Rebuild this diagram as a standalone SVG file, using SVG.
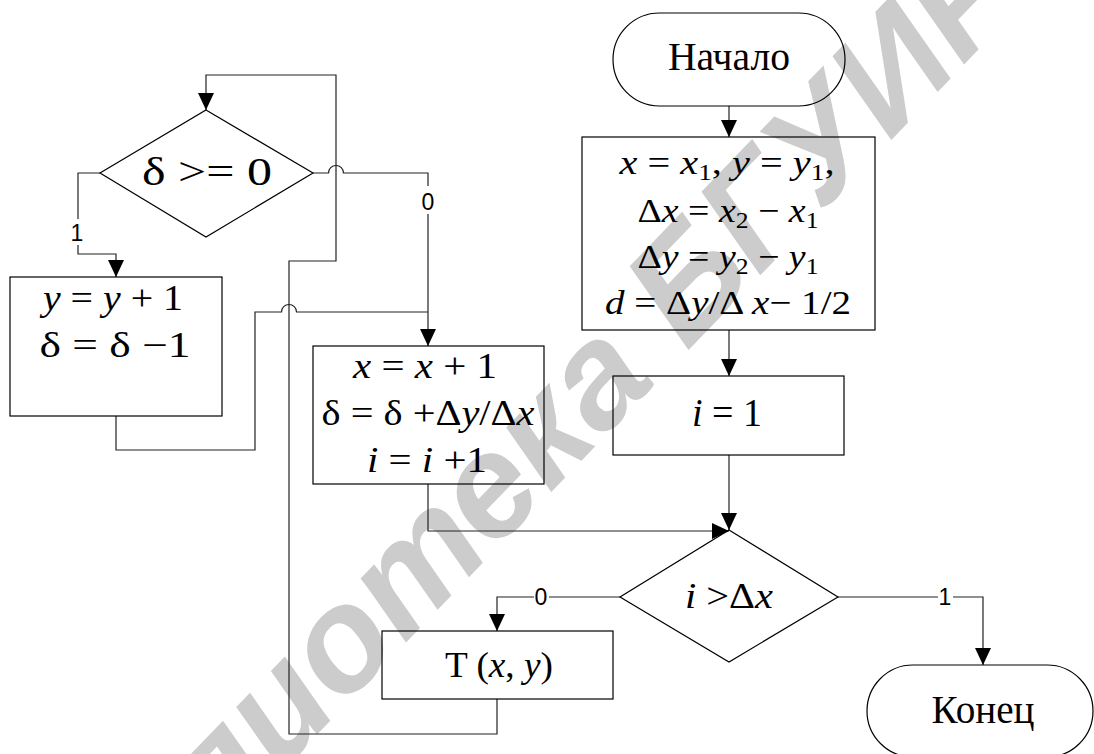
<svg xmlns="http://www.w3.org/2000/svg" width="1094" height="754" viewBox="0 0 1094 754">
  <defs>
    <marker id="arrow" markerUnits="userSpaceOnUse" markerWidth="17" markerHeight="16" refX="17" refY="8" orient="auto">
      <path d="M0,0 L17,8 L0,16 z" fill="#000"/>
    </marker>
    <style>
      .shape { fill: none; stroke: #000; stroke-width: 1.2; }
      .wire { fill: none; stroke: #222; stroke-width: 1.2; }
      .wire-arrow { fill: none; stroke: #222; stroke-width: 1.2; marker-end: url(#arrow); }
      .txt { font-family: 'Liberation Serif', 'Times New Roman', serif; fill: #000; text-anchor: middle; }
      .it { font-style: italic; }
      .lbl { font-family: 'Liberation Sans', Arial, sans-serif; font-size: 23px; fill: #000; text-anchor: middle; }
      .lbl-bg { fill: #fff; }
      .wm { font-family: 'Liberation Sans', Arial, sans-serif; font-weight: bold; font-style: italic; font-size: 146px; fill: #cccccc; }
    </style>
  </defs>

  <rect width="1094" height="754" fill="#fff"/>

  <!-- library watermark -->
  <text class="wm" transform="translate(22,1040) rotate(-46)">Библиотека БГУИР</text>

  <!-- connectors -->
  <g id="connectors">
    <path class="wire-arrow" d="M729,106 V137"/>
    <path class="wire-arrow" d="M729,330 V376"/>
    <path class="wire-arrow" d="M729,455 V530"/>
    <path class="wire-arrow" d="M428,484 V531 H729"/>
    <path class="wire-arrow" d="M620,597 H497 V631"/>
    <path class="wire-arrow" d="M838,597 H983 V665"/>
    <!-- return loop from T(x,y) back to the δ test -->
    <path class="wire-arrow" d="M497,699 V734 H289 V261 H336 V75 H206 V110"/>
    <!-- δ >= 0, branch 0 (hops over the loop line) -->
    <path class="wire-arrow" d="M313,173 H328.5 A7.5,7.5 0 0 1 343.5,173 H428 V346"/>
    <!-- δ >= 0, branch 1 -->
    <path class="wire-arrow" d="M100,173 H78 V254 H116 V277"/>
    <!-- from y = y + 1 into the x = x + 1 block (hops over the loop line) -->
    <path class="wire" d="M116,416 V450 H255 V312 H281.5 A7.5,7.5 0 0 1 296.5,312 H428"/>

    <!-- branch labels -->
    <rect class="lbl-bg" x="70" y="219" width="15" height="26"/>
    <text class="lbl" x="77" y="241">1</text>
    <rect class="lbl-bg" x="421" y="186" width="15" height="28"/>
    <text class="lbl" x="428" y="210">0</text>
    <rect class="lbl-bg" x="534" y="586" width="15" height="22"/>
    <text class="lbl" x="541" y="605">0</text>
    <rect class="lbl-bg" x="938" y="586" width="15" height="22"/>
    <text class="lbl" x="945" y="605">1</text>
  </g>

  <g id="start">
    <rect class="shape" x="613" y="13" width="232" height="93" rx="46.5" ry="46.5"/>
    <text class="txt" x="729" y="70" font-size="39" textLength="122" lengthAdjust="spacingAndGlyphs">Начало</text>
  </g>

  <g id="init">
    <rect class="shape" x="582" y="137" width="293" height="193"/>
    <text class="txt" x="727" y="174" font-size="34" textLength="215" lengthAdjust="spacingAndGlyphs"><tspan class="it">x</tspan> = <tspan class="it">x</tspan><tspan font-size="23" dy="6">1</tspan><tspan dy="-6">, </tspan><tspan class="it">y</tspan> = <tspan class="it">y</tspan><tspan font-size="23" dy="6">1</tspan><tspan dy="-6">,</tspan></text>
    <text class="txt" x="728" y="222" font-size="34" textLength="181" lengthAdjust="spacingAndGlyphs">Δ<tspan class="it">x</tspan> = <tspan class="it">x</tspan><tspan font-size="23" dy="6">2</tspan><tspan dy="-6"> − </tspan><tspan class="it">x</tspan><tspan font-size="23" dy="6">1</tspan></text>
    <text class="txt" x="728" y="268" font-size="34" textLength="181" lengthAdjust="spacingAndGlyphs">Δ<tspan class="it">y</tspan> = <tspan class="it">y</tspan><tspan font-size="23" dy="6">2</tspan><tspan dy="-6"> − </tspan><tspan class="it">y</tspan><tspan font-size="23" dy="6">1</tspan></text>
    <text class="txt" x="728" y="314" font-size="34" textLength="246" lengthAdjust="spacingAndGlyphs"><tspan class="it">d</tspan> = Δ<tspan class="it">y</tspan>/Δ <tspan class="it">x</tspan>− 1/2</text>
  </g>

  <g id="set-i">
    <rect class="shape" x="613" y="376" width="231" height="79"/>
    <text class="txt" x="727" y="426" font-size="40" textLength="70" lengthAdjust="spacingAndGlyphs"><tspan class="it">i</tspan> = 1</text>
  </g>

  <g id="test-i">
    <polygon class="shape" points="729,530 838,597 729,662 620,597"/>
    <text class="txt" x="729" y="608" font-size="35" textLength="88" lengthAdjust="spacingAndGlyphs"><tspan class="it">i</tspan> &gt;Δ<tspan class="it">x</tspan></text>
  </g>

  <g id="plot">
    <rect class="shape" x="382" y="631" width="231" height="68"/>
    <text class="txt" x="499" y="677" font-size="35" textLength="108" lengthAdjust="spacingAndGlyphs">T (<tspan class="it">x</tspan>, <tspan class="it">y</tspan>)</text>
  </g>

  <g id="end">
    <rect class="shape" x="867" y="665" width="226" height="92" rx="46" ry="46"/>
    <text class="txt" x="983" y="723" font-size="39" textLength="103" lengthAdjust="spacingAndGlyphs">Конец</text>
  </g>

  <g id="test-delta">
    <polygon class="shape" points="206,110 313,173 206,237 100,173"/>
    <text class="txt" x="207" y="185" font-size="39" textLength="130" lengthAdjust="spacingAndGlyphs">δ &gt;= 0</text>
  </g>

  <g id="step-y">
    <rect class="shape" x="10" y="277" width="212" height="139"/>
    <text class="txt" x="113" y="310" font-size="36" textLength="140" lengthAdjust="spacingAndGlyphs"><tspan class="it">y</tspan> = <tspan class="it">y</tspan> + 1</text>
    <text class="txt" x="115" y="357" font-size="36" textLength="151" lengthAdjust="spacingAndGlyphs">δ = δ −1</text>
  </g>

  <g id="step-x">
    <rect class="shape" x="313" y="346" width="231" height="138"/>
    <text class="txt" x="425" y="378" font-size="35" textLength="144" lengthAdjust="spacingAndGlyphs"><tspan class="it">x</tspan> = <tspan class="it">x</tspan> + 1</text>
    <text class="txt" x="428" y="425" font-size="35" textLength="213" lengthAdjust="spacingAndGlyphs">δ = δ +Δ<tspan class="it">y</tspan>/Δ<tspan class="it">x</tspan></text>
    <text class="txt" x="427" y="472" font-size="35" textLength="120" lengthAdjust="spacingAndGlyphs"><tspan class="it">i</tspan> = <tspan class="it">i</tspan> +1</text>
  </g>
</svg>
